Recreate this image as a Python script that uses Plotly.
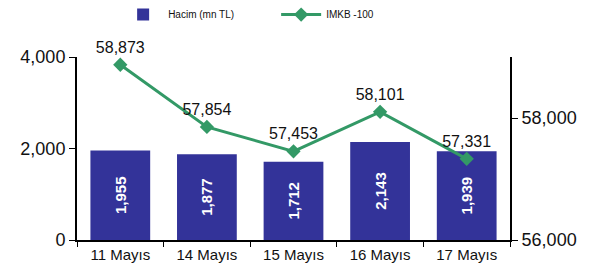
import plotly.graph_objects as go

categories = ["11 Mayıs", "14 Mayıs", "15 Mayıs", "16 Mayıs", "17 Mayıs"]
hacim = [1955, 1877, 1712, 2143, 1939]
imkb = [58873, 57854, 57453, 58101, 57331]

BAR = "#333399"
GREEN = "#339966"
FONT = "Liberation Sans, Arial, sans-serif"

fig = go.Figure()
fig.add_trace(go.Bar(
    x=categories, y=hacim, name="Hacim (mn TL)",
    marker=dict(color=BAR, line=dict(width=0)),
    width=0.69,
    texttemplate="%{y:,.0f}", textposition="inside", textangle=-90,
    insidetextanchor="middle",
    textfont=dict(color="white", size=15, family=FONT, weight="bold"),
    cliponaxis=False,
))
fig.add_trace(go.Scatter(
    x=categories, y=imkb, name="IMKB -100", yaxis="y2",
    mode="lines+markers+text",
    line=dict(color=GREEN, width=3),
    marker=dict(symbol="diamond", size=11, color=GREEN),
    texttemplate="%{y:,.0f}", textposition="top center",
    textfont=dict(color="#111", size=16, family=FONT),
    cliponaxis=False,
))

fig.update_layout(
    width=600, height=278,
    margin=dict(l=77, r=90, t=57, b=38, autoexpand=False),
    paper_bgcolor="white", plot_bgcolor="white",
    font=dict(family=FONT, color="#111"),
    showlegend=True,
    legend=dict(orientation="h", x=0.095, y=1.311,
                xanchor="left", yanchor="top",
                entrywidth=103, entrywidthmode="pixels",
                font=dict(size=10, family=FONT), itemwidth=40),
    xaxis=dict(showline=True, linecolor="black", linewidth=2,
               ticks="outside", ticklen=5, tickcolor="black", tickwidth=1,
               tickson="boundaries", showgrid=False, automargin=False,
               tickfont=dict(size=15, family=FONT)),
    yaxis=dict(range=[0, 4000], dtick=2000, tickformat=",.0f",
               showline=True, linecolor="black", linewidth=2,
               ticks="outside", ticklen=6, tickcolor="black", tickwidth=1,
               showgrid=False, zeroline=False, automargin=False,
               tickfont=dict(size=18, family=FONT)),
    yaxis2=dict(range=[56000, 59000], tick0=56000, dtick=2000, tickformat=",.0f",
                overlaying="y", side="right",
                showline=True, linecolor="black", linewidth=2,
                ticks="outside", ticklen=6, tickcolor="black", tickwidth=1,
                showgrid=False, zeroline=False, automargin=False,
                tickfont=dict(size=18, family=FONT)),
)

fig.write_html("out.html", post_script="document.body.style.margin='0';",
               config={"displayModeBar": False})
